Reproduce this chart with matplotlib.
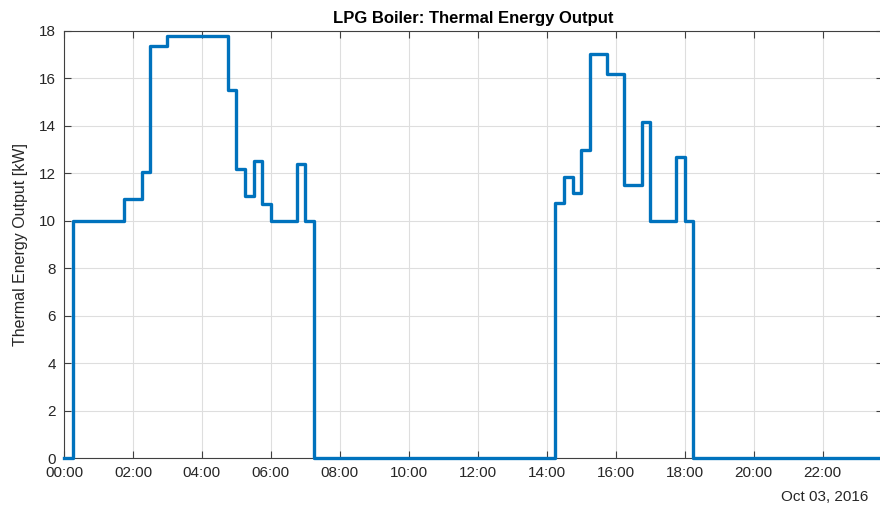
import datetime as dt
import matplotlib
matplotlib.use("Agg")
import matplotlib.pyplot as plt
import matplotlib.dates as mdates

# change points of the 15-min boiler output (value holds until next time)
times = ["00:00", "00:15", "01:45", "02:15", "02:30", "03:00", "04:45", "05:00",
         "05:15", "05:30", "05:45", "06:00", "06:45", "07:00", "07:15",
         "14:15", "14:30", "14:45", "15:00", "15:15", "15:45", "16:15",
         "16:45", "17:00", "17:45", "18:00", "18:15", "23:45"]
output_kw = [0, 10, 10.9, 12.05, 17.35, 17.8, 15.5, 12.2,
             11.05, 12.5, 10.7, 10, 12.4, 10, 0,
             10.75, 11.85, 11.15, 13.0, 17.05, 16.2, 11.5,
             14.15, 10, 12.7, 10, 0, 0]
y_ticks = [0, 2, 4, 6, 8, 10, 12, 14, 16, 18]

day = dt.datetime(2016, 10, 3)
t = [day + dt.timedelta(hours=int(s[:2]), minutes=int(s[3:])) for s in times]

plt.rcParams['font.family'] = ['Liberation Sans', 'DejaVu Sans']
txt = '#262626'
ax_col = '#404040'

fig = plt.figure(figsize=(8.8, 5.13), dpi=100)
ax = fig.add_axes([64 / 880, 55 / 513, 819 / 880, 427 / 513])

ax.step(t, output_kw, where='post', color='#0072BD', lw=2.4, clip_on=False, zorder=5)

ax.set_xlim(t[0], t[-1])
ax.set_ylim(0, 18)
ax.set_yticks(y_ticks)
ax.xaxis.set_major_locator(mdates.HourLocator(byhour=range(0, 24, 2)))
ax.xaxis.set_major_formatter(mdates.DateFormatter('%H:%M'))

ax.grid(True, color='#dedede', lw=0.8)
ax.set_axisbelow(True)
for side in ['left', 'bottom', 'top']:
    ax.spines[side].set_color(ax_col)
    ax.spines[side].set_linewidth(0.8)
ax.spines['right'].set_visible(False)
ax.tick_params(direction='in', length=5, width=0.8, color=ax_col,
               labelsize=11, labelcolor=txt, top=True, right=True, pad=6)

ax.set_ylabel('Thermal Energy Output [kW]', fontsize=11.5, color=txt, labelpad=8)
ax.set_title('LPG Boiler: Thermal Energy Output', fontsize=12, fontweight='bold',
             color='black', pad=6)
fig.text(868 / 880, 1 - 497 / 513, 'Oct 03, 2016', ha='right', va='center',
         fontsize=11, color=txt)

fig.savefig('out.png', dpi=100)
